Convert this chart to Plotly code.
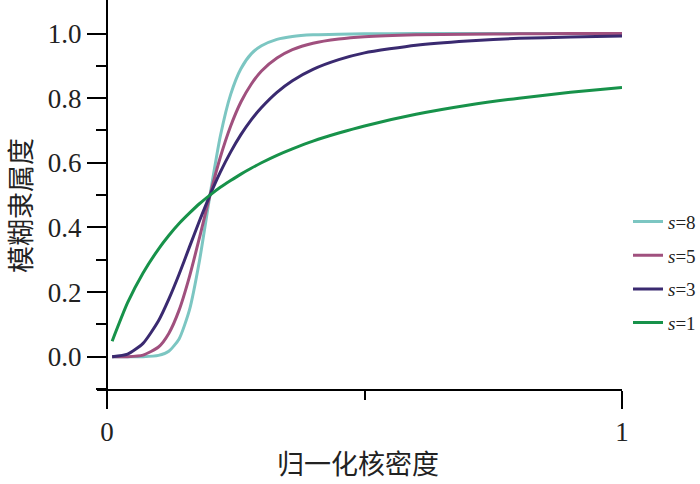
import plotly.graph_objects as go

x_vals = [0.01, 0.04, 0.07, 0.10, 0.12, 0.14, 0.16, 0.18, 0.20, 0.22, 0.24, 0.26,
          0.28, 0.30, 0.33, 0.36, 0.40, 0.45, 0.50, 0.60, 0.70, 0.80, 0.90, 1.00]

# fuzzy membership for each s
y_s8 = [0.000, 0.000, 0.000, 0.004, 0.017, 0.055, 0.144, 0.301, 0.500, 0.682, 0.811, 0.891,
        0.937, 0.962, 0.982, 0.991, 0.996, 0.998, 0.999, 1.000, 1.000, 1.000, 1.000, 1.000]
y_s5 = [0.000, 0.000, 0.005, 0.030, 0.072, 0.144, 0.247, 0.371, 0.500, 0.617, 0.713, 0.788,
        0.843, 0.884, 0.924, 0.950, 0.970, 0.983, 0.990, 0.996, 0.998, 0.999, 1.000, 1.000]
y_s3 = [0.000, 0.008, 0.041, 0.111, 0.178, 0.255, 0.339, 0.422, 0.500, 0.571, 0.633, 0.687,
        0.733, 0.771, 0.818, 0.854, 0.889, 0.919, 0.940, 0.964, 0.977, 0.985, 0.989, 0.992]
y_s1 = [0.048, 0.167, 0.259, 0.333, 0.375, 0.412, 0.444, 0.474, 0.500, 0.524, 0.545, 0.565,
        0.583, 0.600, 0.623, 0.643, 0.667, 0.692, 0.714, 0.750, 0.778, 0.800, 0.818, 0.833]

series_names = ["<i>s</i>=8", "<i>s</i>=5", "<i>s</i>=3", "<i>s</i>=1"]
series_values = [y_s8, y_s5, y_s3, y_s1]
series_colors = ["#7cc6c2", "#a0507e", "#3a2a70", "#17924a"]

y_ticks = [0.0, 0.2, 0.4, 0.6, 0.8, 1.0]
y_tick_labels = ["0.0", "0.2", "0.4", "0.6", "0.8", "1.0"]
x_ticks = [0, 1]
x_tick_labels = ["0", "1"]

fig = go.Figure()
for i, (name, vals, col) in enumerate(zip(series_names, series_values, series_colors)):
    fig.add_trace(go.Scatter(
        x=x_vals, y=vals, mode="lines", name=name,
        line=dict(color=col, width=3, shape="spline", smoothing=0.6),
        legendgroup=f"g{i}",
    ))

serif = "Liberation Serif, Times New Roman, serif"
cjk = "Noto Sans CJK SC"

fig.update_layout(
    width=700, height=484,
    margin=dict(l=97, r=78, t=0, b=95, autoexpand=False),
    paper_bgcolor="white", plot_bgcolor="white",
    showlegend=True,
    legend=dict(
        x=1.0 + 6/525, y=0.479, xanchor="left", yanchor="top",
        font=dict(family=serif, size=19, color="#222"),
        bgcolor="rgba(0,0,0,0)", tracegroupgap=6,
    ),
    xaxis=dict(
        range=[-10/515, 1.0], showgrid=False, zeroline=False, automargin=False,
        showline=True, linecolor="black", linewidth=2,
        tickvals=x_ticks, ticktext=x_tick_labels,
        ticks="outside", ticklen=18, tickwidth=2, tickcolor="black",
        tickfont=dict(family=serif, size=27, color="#222"),
        minor=dict(tickvals=[0.5], ticks="outside", ticklen=9, tickwidth=2, tickcolor="black"),
    ),
    yaxis=dict(
        range=[-0.1, 1.1037], showgrid=False, zeroline=False, automargin=False,
        anchor="free", position=10/525,
        showline=True, linecolor="black", linewidth=2,
        tickvals=y_ticks, ticktext=y_tick_labels,
        ticks="outside", ticklen=19, tickwidth=2, tickcolor="black",
        tickfont=dict(family=serif, size=27, color="#222"),
        minor=dict(tickvals=[-0.1, 0.1, 0.3, 0.5, 0.7, 0.9], ticks="outside",
                   ticklen=10, tickwidth=2, tickcolor="black"),
    ),
    annotations=[
        dict(text="归一化核密度", xref="paper", yref="paper",
             x=(358-97)/525, y=-(463-389)/389, xanchor="center", yanchor="middle",
             showarrow=False, font=dict(family=cjk, size=27, color="#222")),
        dict(text="模糊隶属度", xref="paper", yref="paper", textangle=-90,
             x=-(97-19)/525, y=1-206/389, xanchor="center", yanchor="middle",
             showarrow=False, font=dict(family=cjk, size=27, color="#222")),
    ],
)

fig.write_html("out.html", config={"displayModeBar": False},
               post_script="document.body.style.margin='0';")
